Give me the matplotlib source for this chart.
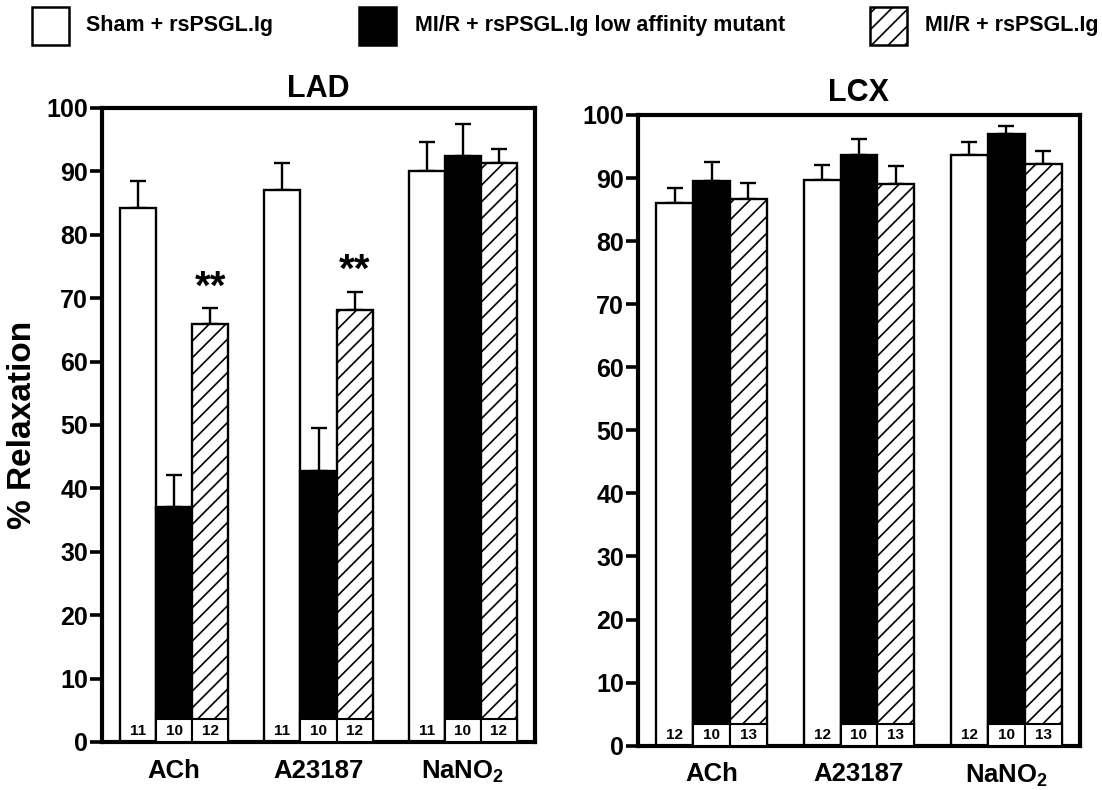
import matplotlib
matplotlib.use("Agg")
import matplotlib.pyplot as plt
from matplotlib.patches import Rectangle
import numpy as np

# ---- data ----
categories = ["ACh", "A23187", r"NaNO$_\mathbf{2}$"]
series_names = ["Sham + rsPSGL.Ig", "MI/R + rsPSGL.Ig low affinity mutant", "MI/R + rsPSGL.Ig"]

lad_sham = [84.3, 87.1, 90.0]
lad_sham_err = [4.2, 4.2, 4.7]
lad_mut = [37.1, 42.7, 92.4]
lad_mut_err = [5.0, 6.9, 5.0]
lad_psgl = [66.0, 68.2, 91.4]
lad_psgl_err = [2.4, 2.8, 2.1]
lad_n = [11, 10, 12]
lad_sig = ["**", "**", ""]

lcx_sham = [86.0, 89.7, 93.7]
lcx_sham_err = [2.4, 2.4, 2.0]
lcx_mut = [89.5, 93.7, 97.0]
lcx_mut_err = [3.1, 2.5, 1.3]
lcx_psgl = [86.6, 89.0, 92.2]
lcx_psgl_err = [2.6, 2.9, 2.1]
lcx_n = [12, 10, 13]
lcx_sig = ["", "", ""]

yticks = [0, 10, 20, 30, 40, 50, 60, 70, 80, 90, 100]

plt.rcParams['font.family'] = ['Liberation Sans', 'DejaVu Sans']
plt.rcParams['font.weight'] = 'bold'
plt.rcParams['mathtext.fontset'] = 'custom'
plt.rcParams['mathtext.rm'] = 'Liberation Sans:bold'
plt.rcParams['mathtext.bf'] = 'Liberation Sans:bold'
plt.rcParams['hatch.linewidth'] = 1.2

fig = plt.figure(figsize=(11.02, 7.9), dpi=100)

styles = [dict(facecolor='white', hatch=None),
          dict(facecolor='black', hatch=None),
          dict(facecolor='white', hatch='//')]

def panel(rect, title, means, errs, n, sig, boxh, title_pad):
    ax = fig.add_axes(rect)
    x = np.arange(len(categories))
    w = 0.25
    offs = [-w, 0, w]
    for k in range(3):
        xs = x + offs[k]
        st = styles[k]
        ax.bar(xs, means[k], width=w, facecolor=st['facecolor'], edgecolor='black',
               linewidth=1.7, hatch=st['hatch'], zorder=2)
        ax.errorbar(xs, means[k], yerr=[np.zeros(len(xs)), errs[k]], fmt='none',
                    ecolor='black', elinewidth=1.7, capsize=5.5, capthick=1.7, zorder=1)
        if k > 0:
            for xi in xs:
                ax.add_patch(Rectangle((xi - w / 2, 0), w, boxh, facecolor='white',
                                       edgecolor='black', linewidth=1.5, zorder=3))
        for xi in xs:
            ax.text(xi, boxh / 2, str(n[k]), ha='center', va='center',
                    fontsize=11, fontweight='bold', zorder=4)
    for i, s in enumerate(sig):
        if s:
            top = means[2][i] + errs[2][i]
            ax.text(x[i] + offs[2], top + 0.3, s, ha='center', va='bottom',
                    fontsize=29, fontweight='bold', zorder=4)
    ax.set_xlim(-0.5, 2.5)
    ax.set_ylim(0, 100)
    ax.set_yticks(yticks)
    ax.set_xticks(x)
    ax.set_xticklabels(categories, fontsize=18.5, fontweight='bold')
    ax.tick_params(axis='x', length=0, pad=12)
    ax.tick_params(axis='y', length=9, width=2.6, pad=1, labelsize=18, direction='out')
    for lab in ax.get_yticklabels():
        lab.set_fontweight('bold')
    for sp in ax.spines.values():
        sp.set_linewidth(3)
    ax.set_title(title, fontsize=22, fontweight='bold', pad=title_pad)
    return ax

ax1 = panel([0.0926, 0.0608, 0.3929, 0.8025], "LAD",
            [lad_sham, lad_mut, lad_psgl], [lad_sham_err, lad_mut_err, lad_psgl_err],
            lad_n, lad_sig, 3.6, 8)
ax1.set_ylabel("% Relaxation", fontsize=24, fontweight='bold', labelpad=6)

ax2 = panel([0.5789, 0.0561, 0.4011, 0.7984], "LCX",
            [lcx_sham, lcx_mut, lcx_psgl], [lcx_sham_err, lcx_mut_err, lcx_psgl_err],
            lcx_n, lcx_sig, 3.4, 10)

# ---- legend ----
W, H = 1102.0, 790.0
box_x = [32, 359, 870]
text_x = [86, 415, 925]
for k in range(3):
    st = styles[k]
    r = Rectangle((box_x[k] / W, 1 - 45 / H), 37 / W, 38 / H, transform=fig.transFigure,
                  facecolor=st['facecolor'], edgecolor='black', linewidth=1.8,
                  hatch=st['hatch'])
    fig.add_artist(r)
    fig.text(text_x[k] / W, 1 - 26 / H, series_names[k], ha='left', va='center',
             fontsize=15.5, fontweight='bold')

fig.savefig("out.png", dpi=100)
